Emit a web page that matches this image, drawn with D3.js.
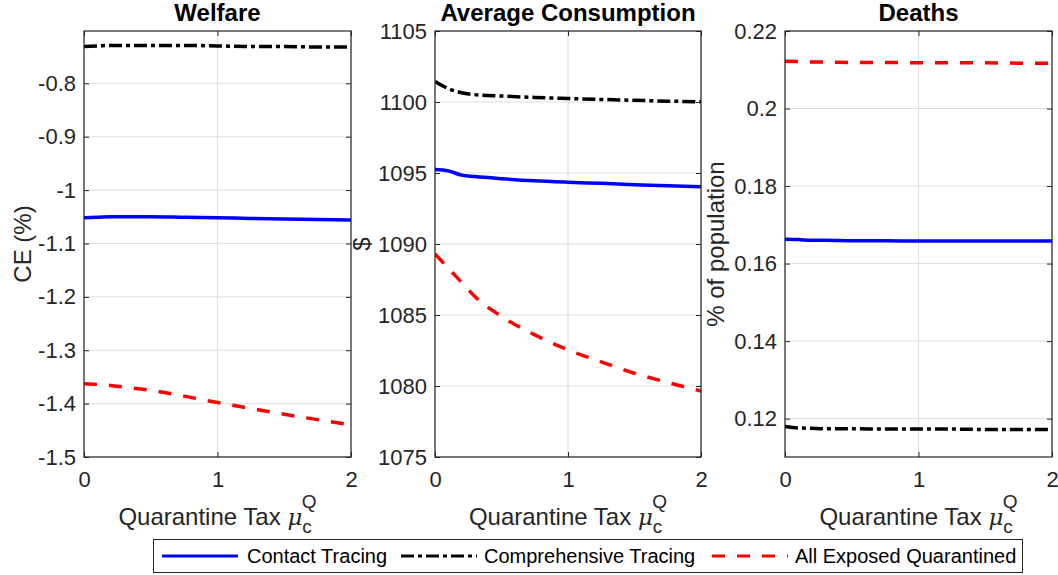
<!DOCTYPE html>
<html><head><meta charset="utf-8">
<script src="https://cdn.jsdelivr.net/npm/d3@7"></script>
<style>
body{margin:0;background:#fff;}
svg{font-family:"Liberation Sans",Arial,sans-serif;}
</style></head>
<body><svg id="c" width="1058" height="575"></svg>
<script>
const xs = [0, 0.1, 0.2, 0.3, 0.5, 0.75, 1, 1.25, 1.5, 1.75, 2];
const xTicks = [0, 1, 2];
const seriesNames = ["Contact Tracing", "Comprehensive Tracing", "All Exposed Quarantined"];

const welfareCT   = [-1.052, -1.051, -1.050, -1.050, -1.050, -1.051, -1.052, -1.053, -1.054, -1.055, -1.056];
const welfareComp = [-0.731, -0.730, -0.729, -0.729, -0.729, -0.729, -0.730, -0.731, -0.731, -0.732, -0.732];
const welfareAEQ  = [-1.363, -1.364, -1.366, -1.369, -1.375, -1.386, -1.398, -1.409, -1.420, -1.430, -1.440];
const welfareTicks = [-1.5, -1.4, -1.3, -1.2, -1.1, -1, -0.9, -0.8];
const welfareTickLabels = ["-1.5", "-1.4", "-1.3", "-1.2", "-1.1", "-1", "-0.9", "-0.8"];

const consCT   = [1095.25, 1095.15, 1094.85, 1094.75, 1094.6, 1094.45, 1094.35, 1094.27, 1094.18, 1094.1, 1094.04];
const consComp = [1101.45, 1100.95, 1100.65, 1100.52, 1100.42, 1100.32, 1100.25, 1100.18, 1100.12, 1100.06, 1100.02];
const consAEQ  = [1089.3, 1088.3, 1087.3, 1086.3, 1084.9, 1083.6, 1082.55, 1081.7, 1080.9, 1080.25, 1079.65];
const consTicks = [1075, 1080, 1085, 1090, 1095, 1100, 1105];
const consTickLabels = ["1075", "1080", "1085", "1090", "1095", "1100", "1105"];

const deathsCT   = [0.1663, 0.1662, 0.1660, 0.1660, 0.1659, 0.1659, 0.1658, 0.1658, 0.1658, 0.1658, 0.1658];
const deathsComp = [0.1180, 0.1176, 0.1175, 0.1174, 0.1174, 0.1173, 0.1173, 0.1173, 0.1172, 0.1172, 0.1172];
const deathsAEQ  = [0.2122, 0.2121, 0.2120, 0.2120, 0.2119, 0.2119, 0.2118, 0.2118, 0.2118, 0.2117, 0.2117];
const deathsTicks = [0.12, 0.14, 0.16, 0.18, 0.2, 0.22];
const deathsTickLabels = ["0.12", "0.14", "0.16", "0.18", "0.2", "0.22"];

const colors = ["#0000ff", "#000000", "#ff0000"];
const dashes = [null, "13,4,4,4", "13,12"];

const panels = [
  {title:"Welfare", ylabel:"CE (%)", left:84, right:351, dom:[-1.5,-0.702], ticks:welfareTicks, labels:welfareTickLabels, data:[welfareCT, welfareComp, welfareAEQ], ylx:23},
  {title:"Average Consumption", ylabel:"$", left:435, right:701, dom:[1075,1105], ticks:consTicks, labels:consTickLabels, data:[consCT, consComp, consAEQ], ylx:362},
  {title:"Deaths", ylabel:"% of population", left:785, right:1052, dom:[0.1101,0.22], ticks:deathsTicks, labels:deathsTickLabels, data:[deathsCT, deathsComp, deathsAEQ], ylx:716}
];
const yTop = 31, yBottom = 457;
const svg = d3.select("#c");
const axisCol = "#262626";

panels.forEach((p, pi) => {
  const x = d3.scaleLinear().domain([0,2]).range([p.left, p.right]);
  const y = d3.scaleLinear().domain(p.dom).range([yBottom, yTop]);
  const g = svg.append("g");
  g.selectAll(".gx").data(xTicks).join("line")
    .attr("x1", d=>x(d)).attr("x2", d=>x(d)).attr("y1", yTop).attr("y2", yBottom)
    .attr("stroke", "#dfdfdf").attr("stroke-width", 1);
  g.selectAll(".gy").data(p.ticks).join("line")
    .attr("x1", p.left).attr("x2", p.right).attr("y1", d=>y(d)).attr("y2", d=>y(d))
    .attr("stroke", "#dfdfdf").attr("stroke-width", 1);
  svg.append("clipPath").attr("id", "clip"+pi).append("rect")
    .attr("x", p.left).attr("y", yTop).attr("width", p.right-p.left).attr("height", yBottom-yTop);
  const line = d3.line().x((d,i)=>x(xs[i])).y(d=>y(d)).curve(d3.curveMonotoneX);
  p.data.forEach((arr, si) => {
    g.append("path").datum(arr).attr("d", line)
      .attr("fill","none").attr("stroke", colors[si]).attr("stroke-width", 3.5)
      .attr("stroke-dasharray", dashes[si]).attr("clip-path", `url(#clip${pi})`);
  });
  const ax = d3.axisBottom(x).tickValues(xTicks).tickFormat(d3.format("d")).tickSizeInner(-5).tickSizeOuter(0).tickPadding(14);
  const axT = d3.axisTop(x).tickValues(xTicks).tickFormat("").tickSizeInner(-5).tickSizeOuter(0);
  const ay = d3.axisLeft(y).tickValues(p.ticks).tickFormat((d,i)=>p.labels[i]).tickSizeInner(-5).tickSizeOuter(0).tickPadding(8);
  const ayR = d3.axisRight(y).tickValues(p.ticks).tickFormat("").tickSizeInner(-5).tickSizeOuter(0);
  const gb = g.append("g").attr("transform", `translate(0,${yBottom})`).call(ax);
  const gt = g.append("g").attr("transform", `translate(0,${yTop})`).call(axT);
  const gl = g.append("g").attr("transform", `translate(${p.left},0)`).call(ay);
  const gr = g.append("g").attr("transform", `translate(${p.right},0)`).call(ayR);
  [gb, gt, gl, gr].forEach(a => {
    a.select(".domain").remove();
    a.selectAll("line").attr("stroke", axisCol);
    a.selectAll("text").attr("fill", axisCol).style("font-size", "22px").style("font-family", '"Liberation Sans",Arial,sans-serif');
  });
  g.append("rect").attr("x", p.left).attr("y", yTop).attr("width", p.right-p.left).attr("height", yBottom-yTop)
    .attr("fill","none").attr("stroke", axisCol).attr("stroke-width", 1.2);
  g.append("text").attr("x", (p.left+p.right)/2).attr("y", 21).attr("text-anchor","middle")
    .style("font-size","24px").style("font-weight","bold").attr("fill","#000").text(p.title);
  g.append("text").attr("transform", `translate(${p.ylx},${(yTop+yBottom)/2}) rotate(-90)`)
    .attr("text-anchor","middle").attr("dy","0.35em").style("font-size","24px").attr("fill", axisCol).text(p.ylabel);
  const xl = g.append("text").attr("x", (p.left+p.right)/2).attr("y", 525).attr("text-anchor","middle")
    .style("font-size","24px").attr("fill", axisCol);
  xl.append("tspan").text("Quarantine Tax ");
  xl.append("tspan").style("font-style","italic").style("font-family",'"DejaVu Serif",serif').style("font-size","23px").text("μ");
  xl.append("tspan").attr("dy", 8).style("font-size","19px").text("c");
  xl.append("tspan").attr("dx", -10).attr("dy", -25).style("font-size","19px").text("Q");
});

const lg = svg.append("g");
lg.append("rect").attr("x", 153.5).attr("y", 539.5).attr("width", 869).attr("height", 33)
  .attr("fill","#fff").attr("stroke", axisCol).attr("stroke-width", 1);
const legItems = [
  {x1:162, x2:238, tx:247},
  {x1:401, x2:477, tx:484},
  {x1:712, x2:788, tx:795}
];
legItems.forEach((it, i) => {
  lg.append("line").attr("x1", it.x1).attr("x2", it.x2).attr("y1", 556).attr("y2", 556)
    .attr("stroke", colors[i]).attr("stroke-width", 3).attr("stroke-dasharray", dashes[i]);
  lg.append("text").attr("x", it.tx).attr("y", 556).attr("dy","0.35em")
    .style("font-size","20px").attr("fill","#000").text(seriesNames[i]);
});
</script></body></html>
